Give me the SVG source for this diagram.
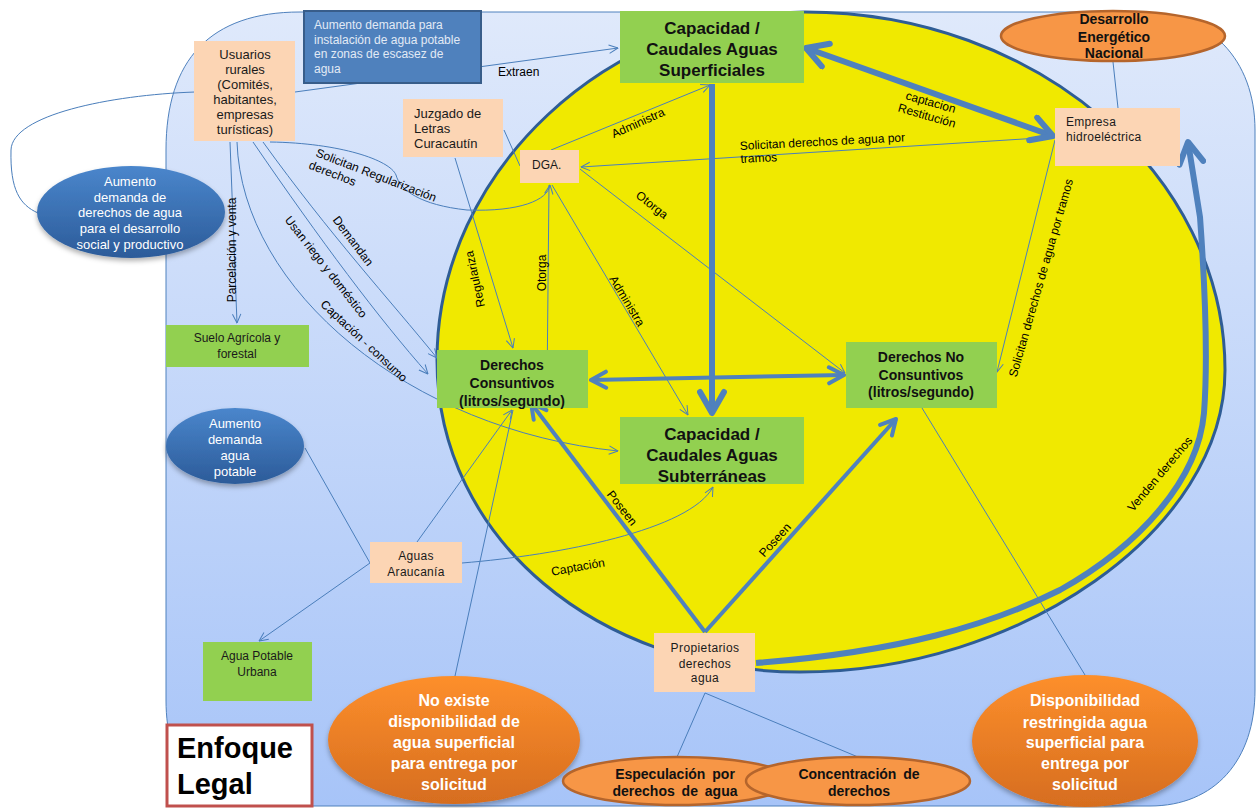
<svg xmlns="http://www.w3.org/2000/svg" width="1258" height="808" viewBox="0 0 1258 808">
<defs>
<linearGradient id="bg" x1="0" y1="0" x2="0" y2="1"><stop offset="0" stop-color="#dfe9fb"/><stop offset="1" stop-color="#a7c4f8"/></linearGradient>
<linearGradient id="gb" x1="0" y1="0" x2="0" y2="1"><stop offset="0" stop-color="#4a86cc"/><stop offset="1" stop-color="#2c5b99"/></linearGradient>
<linearGradient id="go" x1="0" y1="0" x2="0" y2="1"><stop offset="0" stop-color="#fd8f2c"/><stop offset="1" stop-color="#d66d1f"/></linearGradient>
<filter id="sh" x="-10%" y="-10%" width="120%" height="130%"><feDropShadow dx="0" dy="3" stdDeviation="2.5" flood-color="#000" flood-opacity="0.3"/></filter>
<marker id="a" viewBox="0 0 10 10" refX="9.5" refY="5" markerWidth="10" markerHeight="10" markerUnits="userSpaceOnUse" orient="auto-start-reverse"><path d="M0.5,0.8 L9.5,5 L0.5,9.2" fill="none" stroke="#4a7ebb" stroke-width="1"/></marker>
<marker id="k" viewBox="0 0 30 30" refX="26" refY="15" markerWidth="30" markerHeight="30" markerUnits="userSpaceOnUse" orient="auto-start-reverse"><path d="M5,3 L26,15 L5,27" fill="none" stroke="#4f81bd" stroke-width="6" stroke-linecap="round" stroke-linejoin="round"/></marker>
<marker id="m" viewBox="0 0 22 22" refX="19" refY="11" markerWidth="22" markerHeight="22" markerUnits="userSpaceOnUse" orient="auto-start-reverse"><path d="M4,3 L19,11 L4,19" fill="none" stroke="#4f81bd" stroke-width="4" stroke-linecap="round" stroke-linejoin="round"/></marker>
</defs>
<style>
text{font-family:"Liberation Sans",Arial,sans-serif}
.t{fill:none;stroke:#4a7ebb;stroke-width:1}
.k{fill:none;stroke:#4f81bd;stroke-width:6}
.m{fill:none;stroke:#4f81bd;stroke-width:4}
.pe{fill:#fcd5b4}
.gr{fill:#92d050}
.l{font-size:12px;fill:#000}
.n12{font-size:12px;fill:#1a1a1a}
.n13{font-size:13px;fill:#1a1a1a}
.cap{font-size:17px;font-weight:bold;fill:#111}
.der{font-size:14px;font-weight:bold;fill:#111}
.wh{font-size:13px;fill:#fff}
.ow{font-size:16px;font-weight:bold;fill:#fff}
.ob{font-size:14px;font-weight:bold;fill:#111}
.os{fill:#f79646;stroke:#b5652c;stroke-width:2.5}
</style>
<path id="background" d="M300,12 L1140,12 C1210,12 1255,60 1255,130 L1255,690 C1255,760 1215,806 1150,806 L270,806 C200,806 166,770 166,700 L166,150 C166,60 210,12 300,12 Z" fill="url(#bg)" stroke="#4f81bd" stroke-width="1"/>
<path id="field" d="M805,12 C1037,12 1225,175 1225,370 C1225,530 1020,672 800,672 C600,672 437,540 437,360 C437,170 610,12 805,12 Z" fill="#f0e900" stroke="#2f5d95" stroke-width="3"/>

<g id="connectors">
<path class="t" d="M295,92 L618,48" marker-end="url(#a)"/>
<path class="t" d="M195,92 C110,95 12,115 11,150 C10,190 20,205 38,213"/>
<path class="t" d="M230,142 L237,323" marker-end="url(#a)"/>
<path class="t" d="M237,142 C242,290 410,430 618,451" marker-end="url(#a)"/>
<path class="t" d="M253,142 C320,240 380,320 428,374" marker-end="url(#a)"/>
<path class="t" d="M263,142 C330,235 390,300 437,358" marker-end="url(#a)"/>
<path class="t" d="M270,142 C340,143 390,160 396,175 C400,190 420,205 467,210 C520,212 548,200 550,185" marker-end="url(#a)"/>
<path class="t" d="M504,130 L520,166"/>
<path class="t" d="M455,158 L513,348" marker-end="url(#a)"/>
<path class="t" d="M551,150 L710,85" marker-end="url(#a)"/>
<path class="t" d="M1055,137 L581,167" marker-end="url(#a)"/>
<path class="t" d="M580,169 L845,373" marker-end="url(#a)"/>
<path class="t" d="M549,185 L547,391" marker-end="url(#a)"/>
<path class="t" d="M552,185 L688,415" marker-end="url(#a)"/>
<path class="t" d="M1055,140 L997,372" marker-end="url(#a)"/>
<path class="t" d="M1113,62 L1118,108"/>
<path class="t" d="M305,448 L370,563"/>
<path class="t" d="M370,563 L259,641" marker-end="url(#a)"/>
<path class="t" d="M417,542 L512,410" marker-end="url(#a)"/>
<path class="t" d="M455,676 L513,410"/>
<path class="t" d="M462,563 C560,555 690,530 713,487" marker-end="url(#a)"/>
<path class="t" d="M705,693 L677,757"/>
<path class="t" d="M705,693 L858,757"/>
<path class="t" d="M922,408 L1085,675"/>
<path class="k" d="M806,48 L1053,136" marker-start="url(#k)" marker-end="url(#k)"/>
<path class="k" d="M712,84 L712,413" marker-end="url(#k)"/>
<path class="m" d="M591,380 L844,375" marker-start="url(#m)" marker-end="url(#m)"/>
<path class="m" d="M705,632 L531,403" marker-end="url(#m)"/>
<path class="m" d="M705,632 L896,419" marker-end="url(#m)"/>
<path class="k" d="M756,663 C900,652 990,625 1060,590 C1140,545 1198,480 1204,413 C1208,360 1206,300 1200,217 L1188,142" marker-end="url(#k)"/>
</g>

<g id="labels">
<text class="l" x="498" y="76">Extraen</text>
<text class="l" text-anchor="middle" transform="translate(232,250) rotate(-90)" y="4">Parcelación y venta</text>
<text class="l" text-anchor="middle" transform="translate(326,267) rotate(52)" y="4">Usan riego y doméstico</text>
<text class="l" text-anchor="middle" transform="translate(353,241) rotate(53)" y="4">Demandan</text>
<text class="l" text-anchor="middle" transform="translate(364,341) rotate(43)" y="4">Captación - consumo</text>
<text class="l" transform="translate(315,156) rotate(21)"><tspan x="0" y="0">Solicitan Regularización</tspan><tspan x="-2" y="14">derechos</tspan></text>
<text class="l" text-anchor="middle" transform="translate(475,279) rotate(-102)" y="4">Regulariza</text>
<text class="l" text-anchor="middle" transform="translate(542,273) rotate(-90)" y="4">Otorga</text>
<text class="l" text-anchor="middle" transform="translate(627,301) rotate(59)" y="4">Administra</text>
<text class="l" text-anchor="middle" transform="translate(652,205) rotate(38)" y="4">Otorga</text>
<text class="l" text-anchor="middle" transform="translate(638,123) rotate(-24)" y="4">Administra</text>
<text class="l" transform="translate(740,150) rotate(-3)"><tspan x="0" y="0">Solicitan derechos de agua por</tspan><tspan x="0" y="13">tramos</tspan></text>
<text class="l" transform="translate(905,99) rotate(16)"><tspan x="0" y="0">captacion</tspan><tspan x="-4" y="14">Restitución</tspan></text>
<text class="l" text-anchor="middle" transform="translate(1041,278) rotate(-74)" y="4">Solicitan derechos de agua por tramos</text>
<text class="l" text-anchor="middle" transform="translate(1160,474) rotate(-50)" y="4">Venden derechos</text>
<text class="l" text-anchor="middle" transform="translate(622,508) rotate(52)" y="4">Poseen</text>
<text class="l" text-anchor="middle" transform="translate(775,540) rotate(-48)" y="4">Poseen</text>
<text class="l" text-anchor="middle" transform="translate(578,567) rotate(-10)" y="4">Captación</text>
</g>

<g id="n-aumento-instalacion">
<rect x="304" y="11" width="177" height="72" fill="#4f81bd" stroke="#385d8a" stroke-width="2"/>
<text font-size="12" fill="#e2eaf5" x="314"><tspan x="314" y="29">Aumento demanda para</tspan><tspan x="314" y="44">instalación de agua potable</tspan><tspan x="314" y="58">en zonas de escasez de</tspan><tspan x="314" y="73">agua</tspan></text>
</g>
<g id="n-usuarios">
<rect class="pe" x="194" y="41" width="101" height="100"/>
<text class="n13" text-anchor="middle"><tspan x="245" y="59">Usuarios</tspan><tspan x="245" y="74">rurales</tspan><tspan x="245" y="89">(Comités,</tspan><tspan x="245" y="104">habitantes,</tspan><tspan x="245" y="119">empresas</tspan><tspan x="245" y="134">turísticas)</tspan></text>
</g>
<g id="n-cap-sup">
<rect class="gr" x="620" y="11" width="184" height="72"/>
<text class="cap" text-anchor="middle"><tspan x="712" y="34">Capacidad /</tspan><tspan x="712" y="55">Caudales Aguas</tspan><tspan x="712" y="76">Superficiales</tspan></text>
</g>
<g id="n-desarrollo">
<ellipse class="os" cx="1113" cy="36" rx="112" ry="25"/>
<text class="ob" text-anchor="middle"><tspan x="1114" y="24">Desarrollo</tspan><tspan x="1114" y="42">Energético</tspan><tspan x="1114" y="58">Nacional</tspan></text>
</g>
<g id="n-empresa">
<rect class="pe" x="1055" y="108" width="125" height="58"/>
<text class="n12" letter-spacing="0.3"><tspan x="1066" y="126">Empresa</tspan><tspan x="1066" y="141">hidroeléctrica</tspan></text>
</g>
<g id="n-juzgado">
<rect class="pe" x="403" y="99" width="100" height="58"/>
<text class="n13"><tspan x="414" y="118">Juzgado de</tspan><tspan x="414" y="133">Letras</tspan><tspan x="414" y="148">Curacautín</tspan></text>
</g>
<g id="n-dga">
<rect class="pe" x="520" y="150" width="59" height="33"/>
<text class="n12" x="532" y="169">DGA.</text>
</g>
<g id="n-consuntivos">
<rect class="gr" x="437" y="350" width="151" height="58"/>
<text class="der" text-anchor="middle"><tspan x="512" y="370">Derechos</tspan><tspan x="512" y="388">Consuntivos</tspan><tspan x="512" y="406">(litros/segundo)</tspan></text>
</g>
<g id="n-noconsuntivos">
<rect class="gr" x="846" y="342" width="151" height="66"/>
<text class="der" text-anchor="middle"><tspan x="921" y="362">Derechos No</tspan><tspan x="921" y="380">Consuntivos</tspan><tspan x="921" y="397">(litros/segundo)</tspan></text>
</g>
<g id="n-cap-sub">
<rect class="gr" x="620" y="417" width="184" height="67"/>
<text class="cap" text-anchor="middle"><tspan x="712" y="440">Capacidad /</tspan><tspan x="712" y="461">Caudales Aguas</tspan><tspan x="712" y="482">Subterráneas</tspan></text>
</g>
<g id="n-suelo">
<rect class="gr" x="166" y="325" width="143" height="42"/>
<text class="n12" text-anchor="middle"><tspan x="237" y="342">Suelo Agrícola y</tspan><tspan x="237" y="358">forestal</tspan></text>
</g>
<g id="n-aumento-derechos">
<ellipse cx="131" cy="212" rx="94" ry="46" fill="url(#gb)" filter="url(#sh)"/>
<text class="wh" text-anchor="middle"><tspan x="130" y="186">Aumento</tspan><tspan x="130" y="202">demanda de</tspan><tspan x="130" y="217">derechos de agua</tspan><tspan x="130" y="233">para el desarrollo</tspan><tspan x="130" y="249">social y productivo</tspan></text>
</g>
<g id="n-aumento-potable">
<ellipse cx="235" cy="446" rx="69" ry="38" fill="url(#gb)" filter="url(#sh)"/>
<text class="wh" text-anchor="middle"><tspan x="235" y="428">Aumento</tspan><tspan x="235" y="444">demanda</tspan><tspan x="235" y="460">agua</tspan><tspan x="235" y="476">potable</tspan></text>
</g>
<g id="n-aguas-araucania">
<rect class="pe" x="370" y="542" width="92" height="41"/>
<text class="n12" text-anchor="middle" letter-spacing="0.3"><tspan x="416" y="560">Aguas</tspan><tspan x="416" y="576">Araucanía</tspan></text>
</g>
<g id="n-agua-urbana">
<rect class="gr" x="203" y="642" width="109" height="59"/>
<text class="n12" text-anchor="middle"><tspan x="257" y="660">Agua Potable</tspan><tspan x="257" y="676">Urbana</tspan></text>
</g>
<g id="n-propietarios">
<rect class="pe" x="654" y="633" width="101" height="59"/>
<text class="n12" text-anchor="middle" letter-spacing="0.4"><tspan x="705" y="652">Propietarios</tspan><tspan x="705" y="668">derechos</tspan><tspan x="705" y="682">agua</tspan></text>
</g>
<g id="n-no-existe">
<ellipse cx="454" cy="740" rx="126" ry="64" fill="url(#go)" filter="url(#sh)"/>
<text class="ow" text-anchor="middle"><tspan x="454" y="706">No existe</tspan><tspan x="454" y="727">disponibilidad de</tspan><tspan x="454" y="748">agua superficial</tspan><tspan x="454" y="769">para entrega por</tspan><tspan x="454" y="790">solicitud</tspan></text>
</g>
<g id="n-disponibilidad">
<ellipse cx="1085" cy="741" rx="113" ry="66" fill="url(#go)" filter="url(#sh)"/>
<text class="ow" text-anchor="middle"><tspan x="1085" y="706">Disponibilidad</tspan><tspan x="1085" y="728">restringida agua</tspan><tspan x="1085" y="748">superficial para</tspan><tspan x="1085" y="769">entrega por</tspan><tspan x="1085" y="790">solicitud</tspan></text>
</g>
<g id="n-especulacion">
<ellipse class="os" cx="677" cy="781" rx="114" ry="24"/>
<text class="ob" text-anchor="middle" word-spacing="3"><tspan x="675" y="779">Especulación por</tspan><tspan x="675" y="796">derechos de agua</tspan></text>
</g>
<g id="n-concentracion">
<ellipse class="os" cx="858" cy="781" rx="112" ry="24"/>
<text class="ob" text-anchor="middle" word-spacing="3"><tspan x="859" y="779">Concentración de</tspan><tspan x="859" y="796">derechos</tspan></text>
</g>
<g id="n-enfoque">
<rect x="167" y="725" width="145" height="81" fill="#fff" stroke="#c0504d" stroke-width="3"/>
<text font-size="29" font-weight="bold" fill="#000"><tspan x="177" y="758">Enfoque</tspan><tspan x="177" y="794">Legal</tspan></text>
</g>
</svg>
